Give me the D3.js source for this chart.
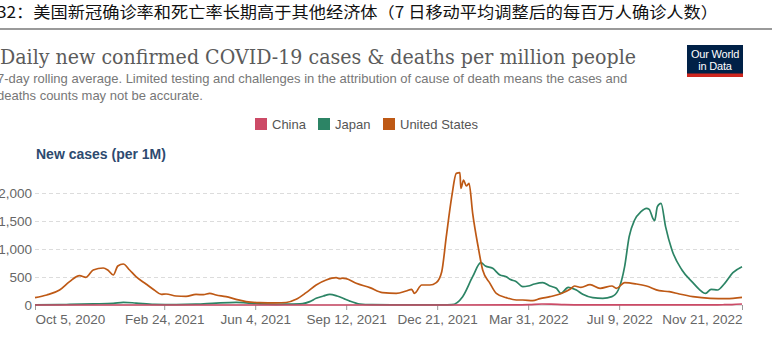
<!DOCTYPE html>
<html>
<head>
<meta charset="utf-8">
<script src="https://cdn.jsdelivr.net/npm/d3@7"></script>
<style>
  body { margin: 0; background: #fff; }
  text { font-family: "Liberation Sans", Arial, sans-serif; }
</style>
</head>
<body>
<div id="wrapper"></div>
<script>
// series: [date, new cases per million, 7-day avg]
const usCases = [
  ["2020-10-05", 132], ["2020-10-18", 179], ["2020-11-01", 268], ["2020-11-12", 417],
  ["2020-11-23", 524], ["2020-11-30", 494], ["2020-12-08", 625], ["2020-12-19", 661],
  ["2020-12-24", 625], ["2020-12-30", 536], ["2021-01-04", 696], ["2021-01-10", 732],
  ["2021-01-17", 625], ["2021-01-24", 506], ["2021-02-04", 375], ["2021-02-13", 268],
  ["2021-02-21", 190], ["2021-02-26", 196], ["2021-03-09", 161], ["2021-03-20", 155],
  ["2021-03-31", 190], ["2021-04-08", 184], ["2021-04-15", 208], ["2021-04-22", 179],
  ["2021-05-03", 149], ["2021-05-14", 101], ["2021-05-25", 60], ["2021-06-09", 42],
  ["2021-06-27", 38], ["2021-07-08", 45], ["2021-07-19", 101], ["2021-07-30", 220],
  ["2021-08-10", 357], ["2021-08-21", 446], ["2021-09-01", 488], ["2021-09-05", 470],
  ["2021-09-08", 480], ["2021-09-12", 470], ["2021-09-23", 387], ["2021-10-08", 310],
  ["2021-10-22", 220], ["2021-11-06", 208], ["2021-11-17", 250], ["2021-11-23", 280],
  ["2021-11-26", 208], ["2021-12-04", 357], ["2021-12-13", 357], ["2021-12-20", 399],
  ["2021-12-26", 595], ["2021-12-31", 1220], ["2022-01-06", 1934], ["2022-01-11", 2351],
  ["2022-01-15", 2363], ["2022-01-16", 2083], ["2022-01-19", 2230], ["2022-01-22", 2125],
  ["2022-01-25", 2173], ["2022-01-29", 1637], ["2022-02-04", 1041], ["2022-02-09", 625],
  ["2022-02-17", 387], ["2022-02-24", 208], ["2022-03-07", 131], ["2022-03-18", 89],
  ["2022-03-25", 89], ["2022-04-05", 77], ["2022-04-13", 113], ["2022-04-24", 149],
  ["2022-05-05", 196], ["2022-05-16", 280], ["2022-05-21", 339], ["2022-05-28", 315],
  ["2022-06-07", 363], ["2022-06-18", 298], ["2022-07-01", 339], ["2022-07-06", 298],
  ["2022-07-15", 399], ["2022-07-28", 375], ["2022-08-08", 339], ["2022-08-22", 256],
  ["2022-09-02", 238], ["2022-09-13", 196], ["2022-09-28", 149], ["2022-10-17", 119],
  ["2022-11-04", 113], ["2022-11-21", 137]
];

const japanCases = [
  ["2020-10-05", 4], ["2020-11-01", 6], ["2020-11-12", 10], ["2020-12-08", 20],
  ["2020-12-30", 30], ["2021-01-10", 48], ["2021-01-24", 35], ["2021-02-13", 12],
  ["2021-03-09", 8], ["2021-03-31", 15], ["2021-04-22", 35], ["2021-05-14", 48],
  ["2021-05-25", 38], ["2021-06-09", 20], ["2021-06-27", 12], ["2021-07-08", 15],
  ["2021-07-26", 25], ["2021-08-03", 60], ["2021-08-10", 119], ["2021-08-18", 160],
  ["2021-08-25", 190], ["2021-09-02", 160], ["2021-09-10", 110], ["2021-09-16", 70],
  ["2021-09-27", 18], ["2021-10-10", 5], ["2021-11-01", 2], ["2021-12-15", 2],
  ["2022-01-01", 3], ["2022-01-06", 5], ["2022-01-18", 149], ["2022-01-29", 506],
  ["2022-02-07", 756], ["2022-02-12", 696], ["2022-02-20", 655], ["2022-02-28", 536],
  ["2022-03-07", 506], ["2022-03-11", 458], ["2022-03-18", 417], ["2022-03-25", 327],
  ["2022-03-31", 339], ["2022-04-07", 375], ["2022-04-16", 399], ["2022-04-24", 339],
  ["2022-05-01", 298], ["2022-05-06", 208], ["2022-05-14", 315], ["2022-05-23", 268],
  ["2022-05-30", 190], ["2022-06-10", 131], ["2022-06-21", 119], ["2022-07-01", 149],
  ["2022-07-08", 268], ["2022-07-15", 685], ["2022-07-20", 1220], ["2022-07-26", 1518],
  ["2022-08-02", 1667], ["2022-08-08", 1726], ["2022-08-11", 1708], ["2022-08-15", 1548],
  ["2022-08-17", 1506], ["2022-08-20", 1756], ["2022-08-24", 1815], ["2022-08-29", 1399],
  ["2022-09-05", 982], ["2022-09-16", 625], ["2022-09-28", 399], ["2022-10-05", 280],
  ["2022-10-12", 208], ["2022-10-18", 280], ["2022-10-25", 268], ["2022-11-02", 387],
  ["2022-11-11", 577], ["2022-11-21", 685]
];

const chinaCases = [
  ["2020-10-05", 0], ["2021-06-01", 0], ["2022-01-01", 0.2], ["2022-03-15", 2],
  ["2022-04-01", 6], ["2022-04-15", 18], ["2022-04-25", 16], ["2022-05-10", 5],
  ["2022-06-01", 1], ["2022-07-15", 0.5], ["2022-08-15", 2], ["2022-09-15", 1],
  ["2022-10-15", 3], ["2022-11-01", 5], ["2022-11-10", 8], ["2022-11-21", 18]
];

const countries = ["China", "Japan", "United States"];
const countryColors = ["#cc4a66", "#2c8465", "#be5915"];
const yTicks = [0, 500, 1000, 1500, 2000];
const xTicks = ["2020-10-05", "2021-02-24", "2021-06-04", "2021-09-12",
  "2021-12-21", "2022-03-31", "2022-07-09", "2022-11-21"];

const captionText = "32：美国新冠确诊率和死亡率长期高于其他经济体（7 日移动平均调整后的每百万人确诊人数）";
const titleText = "Daily new confirmed COVID-19 cases & deaths per million people";
const subtitleLines = [
  "7-day rolling average. Limited testing and challenges in the attribution of cause of death means the cases and",
  "deaths counts may not be accurate."
];

function drawChart() {
  const parseDate = d3.timeParse("%Y-%m-%d");
  const xAccessor = d => parseDate(d[0]);
  const yAccessor = d => d[1];

  let dimensions = {
    width: 772,
    height: 350,
    plot: { left: 35, right: 742, top: 193, bottom: 305 }
  };

  const svg = d3.select("#wrapper").append("svg")
    .attr("width", dimensions.width)
    .attr("height", dimensions.height)
    .style("display", "block");

  svg.append("rect")
    .attr("width", dimensions.width)
    .attr("height", dimensions.height)
    .attr("fill", "#fff");

  // report caption + rule
  svg.append("text")
    .attr("x", -3)
    .attr("y", 18)
    .attr("textLength", 721)
    .attr("lengthAdjust", "spacingAndGlyphs")
    .style("font-family", "'Noto Sans CJK SC', sans-serif")
    .style("font-size", "15.5px")
    .attr("fill", "#111")
    .text(captionText);

  svg.append("rect")
    .attr("x", 0).attr("y", 28)
    .attr("width", dimensions.width).attr("height", 2)
    .attr("fill", "#9a9a9a");

  // OWID header
  svg.append("text")
    .attr("x", 0)
    .attr("y", 64)
    .attr("textLength", 636)
    .attr("lengthAdjust", "spacingAndGlyphs")
    .style("font-family", "'DejaVu Serif', Georgia, serif")
    .style("font-size", "20px")
    .attr("fill", "#5b5b5b")
    .text(titleText);

  svg.append("g").selectAll("text")
    .data(subtitleLines)
    .join("text")
    .attr("x", -3)
    .attr("y", (d, i) => 83 + i * 17)
    .style("font-size", "13px")
    .attr("fill", "#777")
    .text(d => d);

  const logo = svg.append("g").attr("transform", "translate(687,45)");
  logo.append("rect").attr("width", 56).attr("height", 32).attr("fill", "#002147");
  logo.append("rect").attr("y", 28.5).attr("width", 56).attr("height", 3.5).attr("fill", "#ce261e");
  logo.selectAll("text.logo")
    .data(["Our World", "in Data"])
    .join("text")
    .attr("class", "logo")
    .attr("x", 28)
    .attr("y", (d, i) => 13 + i * 12)
    .attr("text-anchor", "middle")
    .style("font-size", "11px")
    .style("letter-spacing", "-0.2px")
    .attr("fill", "#fff")
    .text(d => d);

  // legend
  const legendX = [255, 318, 383];
  const legend = svg.append("g").selectAll("g")
    .data(countries)
    .join("g")
    .attr("transform", (d, i) => `translate(${legendX[i]},118)`);
  legend.append("rect")
    .attr("width", 12).attr("height", 12)
    .attr("fill", (d, i) => countryColors[i]);
  legend.append("text")
    .attr("x", 17).attr("y", 11)
    .style("font-size", "13px")
    .attr("fill", "#555")
    .text(d => d);

  svg.append("text")
    .attr("x", 36)
    .attr("y", 159)
    .style("font-size", "14px")
    .style("font-weight", "bold")
    .attr("fill", "#2d4a6f")
    .text("New cases (per 1M)");

  // scales
  const xScale = d3.scaleTime()
    .domain([parseDate(xTicks[0]), parseDate(xTicks[xTicks.length - 1])])
    .range([dimensions.plot.left, dimensions.plot.right]);

  const yScale = d3.scaleLinear()
    .domain([0, 2000])
    .range([dimensions.plot.bottom, dimensions.plot.top]);

  // y gridlines + labels
  const yAxisGenerator = d3.axisLeft(yScale)
    .tickValues(yTicks)
    .tickFormat(d3.format(","))
    .tickSize(-(dimensions.plot.right - dimensions.plot.left))
    .tickPadding(3);

  const yAxis = svg.append("g")
    .attr("transform", `translate(${dimensions.plot.left},0)`)
    .call(yAxisGenerator);
  yAxis.select(".domain").remove();
  yAxis.selectAll(".tick line")
    .attr("stroke", "#dcdcdc")
    .attr("stroke-dasharray", "4,3")
    .filter(d => d === 0).remove();
  yAxis.selectAll(".tick text")
    .attr("fill", "#666")
    .style("font-size", "13.5px")
    .style("font-family", "'Liberation Sans', Arial, sans-serif");

  // x axis
  const xAxisGenerator = d3.axisBottom(xScale)
    .tickValues(xTicks.map(parseDate))
    .tickFormat(d3.timeFormat("%b %-d, %Y"))
    .tickSize(5)
    .tickPadding(4);

  const xAxis = svg.append("g")
    .attr("transform", `translate(0,${dimensions.plot.bottom})`)
    .call(xAxisGenerator);
  xAxis.select(".domain")
    .attr("d", `M${dimensions.plot.left},0H${dimensions.plot.right}`)
    .attr("stroke", "#bbb");
  xAxis.selectAll(".tick line").attr("stroke", "#999");
  xAxis.selectAll(".tick text")
    .attr("fill", "#666")
    .style("font-size", "13.5px")
    .style("font-family", "'Liberation Sans', Arial, sans-serif")
    .attr("text-anchor", (d, i) => i === 0 ? "start" : i === xTicks.length - 1 ? "end" : "middle");

  // lines
  const lineGenerator = d3.line()
    .x(d => xScale(xAccessor(d)))
    .y(d => yScale(yAccessor(d)))
    .curve(d3.curveMonotoneX);

  const series = [
    { data: japanCases, color: countryColors[1] },
    { data: usCases, color: countryColors[2] },
    { data: chinaCases, color: countryColors[0] }
  ];

  svg.append("g").selectAll("path")
    .data(series)
    .join("path")
    .attr("d", d => lineGenerator(d.data))
    .attr("fill", "none")
    .attr("stroke", d => d.color)
    .attr("stroke-width", 1.7)
    .attr("stroke-linejoin", "round");
}

drawChart();
</script>
</body>
</html>
